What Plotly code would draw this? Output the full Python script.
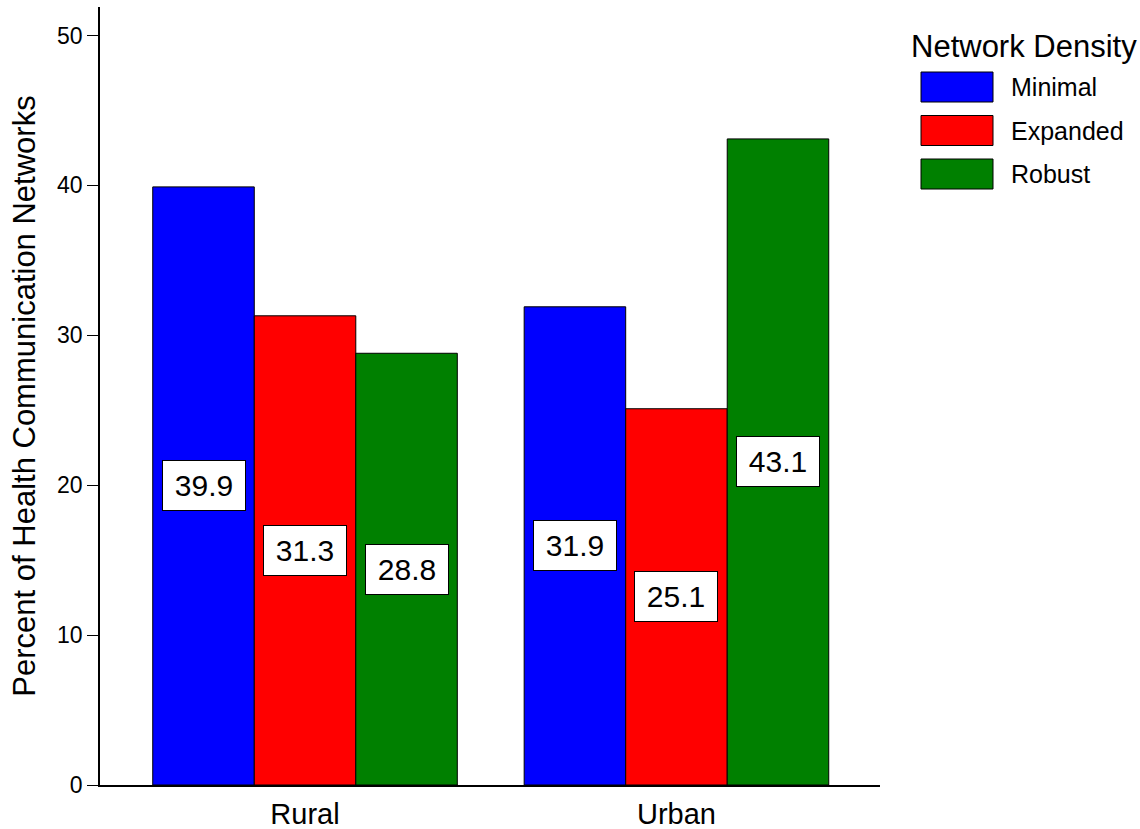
import plotly.graph_objects as go

# Data
areas = ["Rural", "Urban"]
densities = ["Minimal", "Expanded", "Robust"]
minimal = [39.9, 31.9]
expanded = [31.3, 25.1]
robust = [28.8, 43.1]
colors = ["#0000FF", "#FF0000", "#008000"]
y_ticks = [0, 10, 20, 30, 40, 50]

series = [minimal, expanded, robust]

FONT = "Liberation Sans, Arial, sans-serif"
W, H = 1140, 829
M_L, M_R, M_T, M_B = 100, 260, 7, 44
BARGAP = 0.18

x_pos = list(range(len(areas)))

fig = go.Figure()
for name, vals, col in zip(densities, series, colors):
    fig.add_trace(go.Bar(
        x=x_pos, y=vals, name=name,
        marker=dict(color=col, line=dict(color="black", width=1)),
        showlegend=False,
    ))

# value boxes at half the bar height
n = len(series)
bw = (1 - BARGAP) / n
annotations = []
for j, vals in enumerate(series):
    for i, v in enumerate(vals):
        annotations.append(dict(
            x=i + (j - (n - 1) / 2) * bw, y=v / 2, xref="x", yref="y",
            text=f"{v:.1f}", showarrow=False,
            font=dict(family=FONT, size=30, color="black"),
            bgcolor="white", bordercolor="black", borderwidth=1,
            width=80, height=47, borderpad=1,
        ))

# legend built from shapes and text (large swatches)
pw = W - M_L - M_R
ph = H - M_T - M_B
def px_x(px):
    return (px - M_L) / pw
def px_y(py):
    return (H - M_B - py) / ph

annotations.append(dict(
    x=px_x(909), y=px_y(47), xref="paper", yref="paper",
    text="Network Density", showarrow=False, xanchor="left", yanchor="middle",
    font=dict(family=FONT, size=31, color="black"),
))
shapes = []
for k, (name, col) in enumerate(zip(densities, colors)):
    cy = 87 + 43.5 * k
    shapes.append(dict(
        type="rect", xref="paper", yref="paper",
        x0=px_x(921), x1=px_x(993), y0=px_y(cy - 15), y1=px_y(cy + 15),
        fillcolor=col, line=dict(color="black", width=1),
    ))
    annotations.append(dict(
        x=px_x(1009), y=px_y(cy), xref="paper", yref="paper",
        text=name, showarrow=False, xanchor="left", yanchor="middle",
        font=dict(family=FONT, size=25, color="black"),
    ))

fig.update_layout(
    width=W, height=H,
    margin=dict(l=M_L, r=M_R, t=M_T, b=M_B),
    paper_bgcolor="white", plot_bgcolor="white",
    barmode="group", bargap=BARGAP, bargroupgap=0,
    annotations=annotations, shapes=shapes,
    showlegend=False,
    xaxis=dict(
        tickvals=x_pos, ticktext=areas, range=[-0.552, 1.548],
        showgrid=False, zeroline=False, showline=True, linecolor="black", linewidth=1.5,
        ticks="outside", ticklen=2, tickcolor="rgba(0,0,0,0)",
        tickfont=dict(family=FONT, size=29, color="black"),
        automargin=False, fixedrange=True,
    ),
    yaxis=dict(
        range=[0, 51.9], tickvals=y_ticks,
        showgrid=False, zeroline=False, showline=True, linecolor="black", linewidth=1.5,
        ticks="outside", ticklen=11, tickwidth=1, tickcolor="black",
        tickfont=dict(family=FONT, size=23, color="black"),
        title=dict(text="Percent of Health Communication Networks",
                   font=dict(family=FONT, size=31, color="black"), standoff=12),
        automargin=False,
    ),
)

fig.write_html("out.html")
